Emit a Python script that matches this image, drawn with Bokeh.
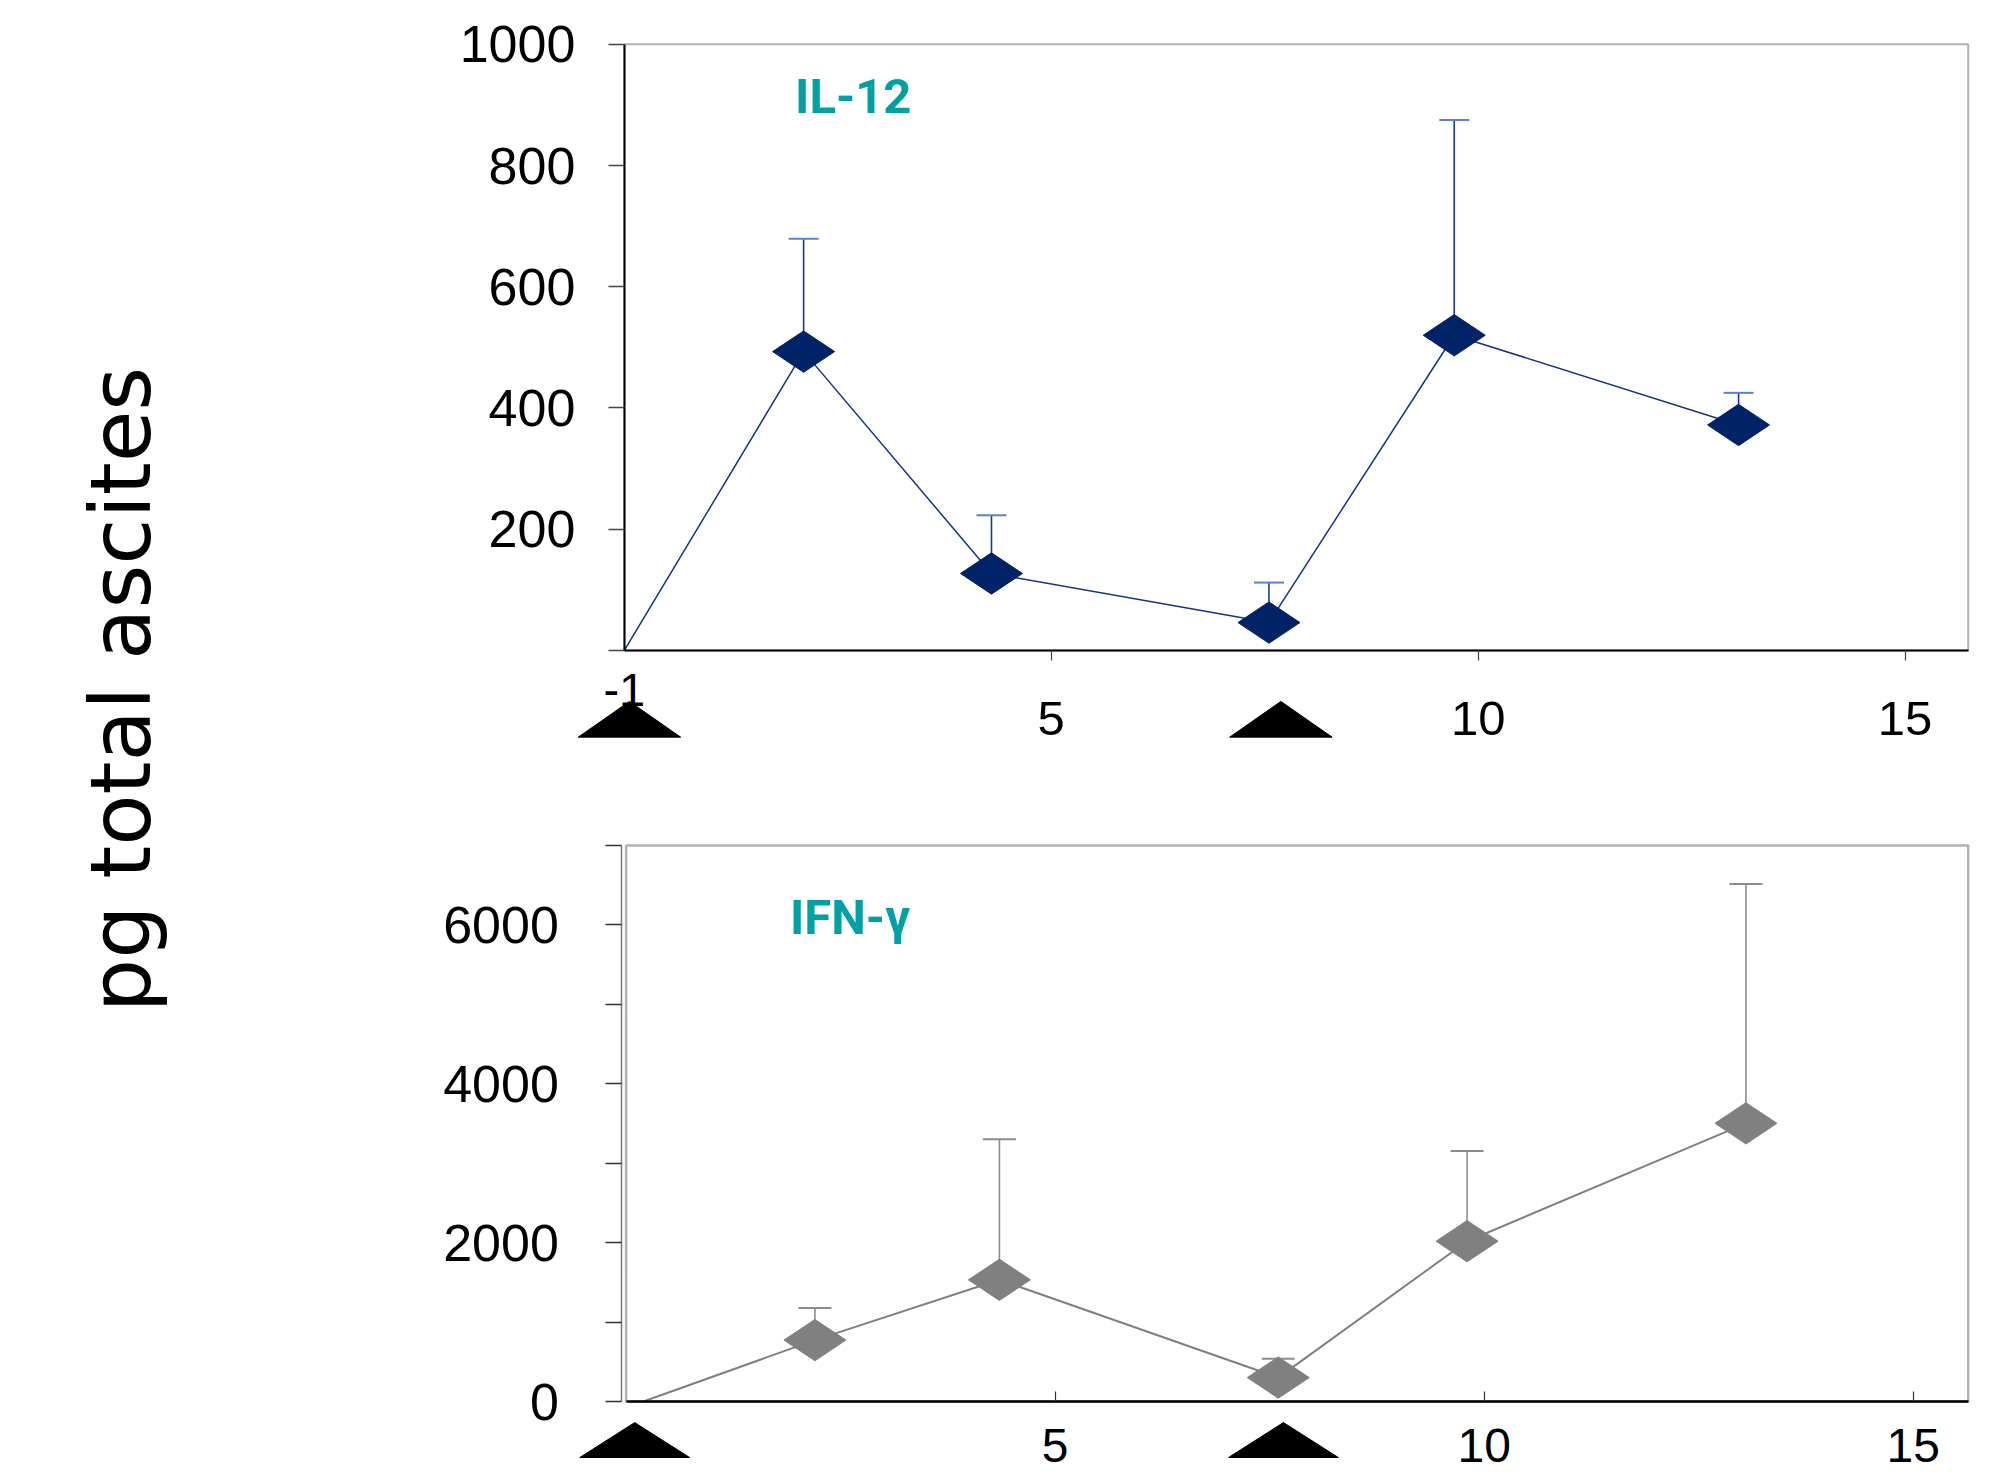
from math import pi

from bokeh.plotting import figure
from bokeh.layouts import row, column
from bokeh.models import (BoxAnnotation, ColumnDataSource, FixedTicker, Label,
                          LinearAxis, Range1d, TeeHead, Whisker)
from bokeh.embed import file_html
from bokeh.resources import INLINE

# ---------------- data ----------------
il12_days = [2.1, 4.3, 7.55, 9.72, 13.05]
il12_mean = [493, 127, 46, 520, 372]
il12_upper = [679, 223, 112, 875, 425]
il12_start_day = [0.0]
il12_start_val = [0]

ifn_days = [2.2, 4.35, 7.6, 9.8, 13.05]
ifn_mean = [773, 1532, 301, 2018, 3502]
ifn_upper = [1176, 3302, 539, 3154, 6514]
ifn_start_day = [0.2]
ifn_start_val = [0]

treatment_days_top = [0.06, 7.69]
treatment_days_bottom = [0.10, 7.66]

il12_yticks = [0, 200, 400, 600, 800, 1000]
ifn_yticks = [0, 2000, 4000, 6000]
ifn_yticks_minor = [1000, 3000, 5000, 7000]
x_ticks = [5, 10, 15]
top_origin_tick = [0]
top_origin_label = {0: "-1"}

y_title = "pg total ascites"
top_label = "IL-12"
bottom_label = "IFN-\u03b3"

# axis extents of the two boxes
TOP_X = (0, 15.74)
TOP_Y = (0, 1000)
BOT_X = (0, 15.64)
BOT_Y = (0, 7000)

# ---------------- styles ----------------
NUM_FONT = "Liberation Sans"
TEAL = "#00A0A3"
NAVY = "#002266"


def style_axis(ax):
    ax.major_label_text_font = NUM_FONT
    ax.major_label_text_color = "black"
    ax.minor_tick_in = 0
    ax.minor_tick_out = 0
    ax.major_tick_in = 0
    ax.axis_line_color = "black"
    ax.axis_line_width = 2


def base_fig(w, h, xr, yr, **borders):
    p = figure(width=w, height=h, x_range=Range1d(*xr), y_range=Range1d(*yr),
               output_backend="svg", toolbar_location=None, title=None, **borders)
    p.grid.visible = False
    p.background_fill_color = "white"
    p.border_fill_color = "white"
    p.outline_line_color = None
    style_axis(p.xaxis[0])
    style_axis(p.yaxis[0])
    return p


def add_box(p, xr, yr, width):
    p.add_layout(BoxAnnotation(left=xr[0], right=xr[1], bottom=yr[0], top=yr[1],
                               fill_color=None, fill_alpha=0,
                               line_color="black", line_width=width, level="underlay"))


def add_triangles(p, days, half_w, apex, base):
    xs = [[d - half_w, d, d + half_w] for d in days]
    ys = [[base, apex, base] for _ in days]
    p.patches(xs, ys, fill_color="black", line_color="black", line_width=1)


# ---------------- left title strip ----------------
LW, TOTAL_H = 250, 1475
pl = figure(width=LW, height=TOTAL_H, x_range=Range1d(0, LW), y_range=Range1d(0, TOTAL_H),
            output_backend="svg", toolbar_location=None, title=None,
            x_axis_location=None, y_axis_location=None, min_border=0)
pl.grid.visible = False
pl.outline_line_color = None
pl.add_layout(Label(x=120, y=TOTAL_H - 689, text=y_title, angle=pi / 2,
                    text_align="center", text_baseline="alphabetic",
                    text_font="DejaVu Sans", text_font_size="84px", text_color="black"))

# ---------------- top panel: IL-12 ----------------
H1 = 778
p1 = base_fig(1728, H1, (-2.2, TOP_X[1] + 0.05), (-198, 1059),
              min_border_left=186, min_border_right=6,
              min_border_top=8, min_border_bottom=8)
add_box(p1, TOP_X, TOP_Y, 2)
p1.yaxis.fixed_location = 0
p1.yaxis.ticker = FixedTicker(ticks=il12_yticks)
p1.yaxis.bounds = TOP_Y
p1.yaxis.major_label_overrides = {0: ""}
p1.yaxis.major_tick_out = 16
p1.yaxis.major_tick_line_color = "#444444"
p1.yaxis.major_tick_line_width = 1.5
p1.yaxis.major_label_standoff = 33
p1.yaxis.major_label_text_font_size = "52px"

p1.xaxis.fixed_location = 0
p1.xaxis.bounds = TOP_X
p1.xaxis.ticker = FixedTicker(ticks=x_ticks)
p1.xaxis.major_tick_out = 10
p1.xaxis.major_tick_line_color = "#444444"
p1.xaxis.major_tick_line_width = 1.2
p1.xaxis.major_label_standoff = 42
p1.xaxis.major_label_text_font_size = "49px"

# the origin of the top panel is labelled "-1", set a little higher than the others
origin_axis = LinearAxis(fixed_location=0, ticker=FixedTicker(ticks=top_origin_tick),
                         major_label_overrides=top_origin_label)
style_axis(origin_axis)
origin_axis.axis_line_color = None
origin_axis.major_tick_line_color = None
origin_axis.major_tick_out = 0
origin_axis.major_label_standoff = 24
origin_axis.major_label_text_font_size = "47px"
p1.add_layout(origin_axis, "below")

src1 = ColumnDataSource(dict(x=il12_days, y=il12_mean, upper=il12_upper))
p1.line(il12_start_day + il12_days, il12_start_val + il12_mean,
        line_color="#143487", line_width=1.5)
p1.add_layout(Whisker(source=src1, base="x", lower="y", upper="upper",
                      dimension="height", level="underlay",
                      line_color="#17389A", line_width=1.6, lower_head=None,
                      upper_head=TeeHead(size=30, line_color="#5A82D0", line_width=2)))
p1.scatter("x", "y", source=src1, marker="diamond", size=62, angle=pi / 2,
           fill_color=NAVY, line_color=NAVY)
p1.add_layout(Label(x=2.0, y=914, text=top_label, text_font="Roboto",
                    text_font_style="bold", text_font_size="49px",
                    text_color=TEAL, text_baseline="middle"))
add_triangles(p1, treatment_days_top, 0.6, -84, -143)

# ---------------- bottom panel: IFN-gamma ----------------
p2 = base_fig(1728, TOTAL_H - H1, (-2.21, BOT_X[1] + 0.05), (-919, BOT_Y[1] + 50),
              min_border_left=186, min_border_right=3,
              min_border_top=63, min_border_bottom=1)
add_box(p2, BOT_X, BOT_Y, 2.5)
p2.yaxis.fixed_location = -0.05
p2.yaxis.ticker = FixedTicker(ticks=ifn_yticks, minor_ticks=ifn_yticks_minor)
p2.yaxis.bounds = BOT_Y
p2.yaxis.major_tick_out = 16
p2.yaxis.minor_tick_out = 16
p2.yaxis.major_tick_line_color = "#333333"
p2.yaxis.minor_tick_line_color = "#333333"
p2.yaxis.major_tick_line_width = 1.5
p2.yaxis.minor_tick_line_width = 1.5
p2.yaxis.axis_line_color = "#777777"
p2.yaxis.axis_line_width = 1.5
p2.yaxis.major_label_standoff = 47
p2.yaxis.major_label_text_font_size = "52px"

p2.xaxis.fixed_location = 0
p2.xaxis.bounds = BOT_X
p2.xaxis.ticker = FixedTicker(ticks=x_ticks)
p2.xaxis.major_tick_in = 10
p2.xaxis.major_tick_out = 0
p2.xaxis.major_tick_line_color = "#333333"
p2.xaxis.major_tick_line_width = 1.2
p2.xaxis.axis_line_width = 2.5
p2.xaxis.major_label_standoff = 27
p2.xaxis.major_label_text_font_size = "48px"

src2 = ColumnDataSource(dict(x=ifn_days, y=ifn_mean, upper=ifn_upper))
p2.line(ifn_start_day + ifn_days, ifn_start_val + ifn_mean,
        line_color="#808080", line_width=2)
p2.add_layout(Whisker(source=src2, base="x", lower="y", upper="upper",
                      dimension="height", level="underlay",
                      line_color="#8C8C8C", line_width=1.6, lower_head=None,
                      upper_head=TeeHead(size=33, line_color="#8C8C8C", line_width=2)))
p2.scatter("x", "y", source=src2, marker="diamond", size=62, angle=pi / 2,
           fill_color="#808080", line_color="#808080")
p2.add_layout(Label(x=1.91, y=6093, text=bottom_label, text_font="Roboto",
                    text_font_style="bold", text_font_size="49px",
                    text_color=TEAL, text_baseline="middle"))
add_triangles(p2, treatment_days_bottom, 0.64, -265, -705)

page = row(pl, column(p1, p2))
open("out.html", "w").write(file_html(page, INLINE))
